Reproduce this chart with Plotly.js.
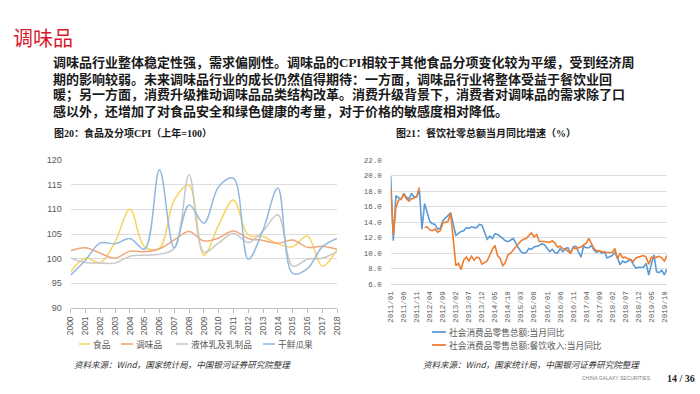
<!DOCTYPE html>
<html>
<head>
<meta charset="utf-8">
<script src="https://cdn.plot.ly/plotly-3.0.1.min.js"></script>
<style>html,body{margin:0;padding:0;background:#fff}#chart{width:700px;height:394px}</style>
</head>
<body>
<div id="chart"></div>
<script>
// ---------- Left chart data: 食品及分项CPI（上年=100） ----------
const years = ['2000','2001','2002','2003','2004','2005','2006','2007','2008','2009','2010','2011','2012','2013','2014','2015','2016','2017','2018'];
const food      = [97.4,100.1,99.2,103.4,110.0,102.4,102.1,111.9,114.9,100.7,106.8,111.9,104.8,104.5,103.0,102.4,104.6,98.5,101.8];
const seasoning = [101.6,102.2,101.1,100.1,101.5,101.4,102.0,103.8,105.5,103.6,104.2,105.6,104.1,103.7,103.1,103.8,102.3,102.5,101.9];
const dairy     = [100.1,99.2,99.1,99.1,100.5,100.7,100.9,102.1,117.0,101.3,103.2,105.1,103.3,105.6,108.9,98.5,99.9,100.1,101.4];
const fruit     = [96.7,99.7,103.2,103.0,104.1,101.9,118.0,102.2,110.9,107.2,114.6,116.3,99.9,105.8,114.3,97.0,98.0,102.4,104.1];
const leftNames = ['食品','调味品','液体乳及乳制品','干鲜瓜果'];

// ---------- Right chart data: 餐饮社零总额当月同比增速（%） ----------
const startYear = 2011, endYear = 2019, endMonth = 11;
const retailTotal = [
 19.9,11.6,17.4,17.1,16.9,17.7,17.2,17.0,17.7,17.2,17.3,18.1,
 13.1,16.4,15.2,14.1,13.8,13.7,13.1,13.2,14.2,14.5,14.9,15.2,
 null,12.3,12.6,12.8,12.9,13.3,13.2,13.4,13.3,13.3,13.7,13.6,
 null,11.8,12.2,11.9,12.5,12.4,12.2,11.9,11.6,11.5,11.7,11.9,
 null,10.7,10.2,10.0,10.1,10.6,10.5,10.8,10.9,11.0,11.2,11.1,
 null,10.2,10.5,10.1,10.0,10.6,10.2,10.6,10.7,10.0,10.8,10.9,
 null,9.5,10.9,10.7,10.7,11.0,10.4,10.1,10.3,10.0,10.2,9.4,
 null,9.7,10.1,9.4,8.5,9.0,8.8,9.0,9.2,8.6,8.1,8.2,
 null,8.2,8.7,7.2,8.6,9.8,7.6,7.5,7.8,7.2,8.0
];
const catering = [
 18.3,12.4,15.9,16.8,17.0,17.6,17.0,16.7,17.0,17.1,17.3,18.5,
 null,13.3,13.4,13.0,12.9,13.1,12.7,12.9,13.9,14.0,14.1,15.2,
 null,8.4,8.7,7.9,9.1,9.5,9.0,9.6,9.1,9.5,9.4,8.6,
 null,9.0,9.8,10.5,11.0,9.7,9.3,8.4,8.8,9.8,10.0,10.4,
 null,11.1,11.6,11.8,11.9,12.3,12.6,12.1,12.4,11.5,11.5,11.5,
 null,11.4,11.6,11.3,10.8,10.9,10.6,10.5,10.2,10.0,10.7,10.6,
 null,10.8,11.1,11.3,11.9,11.3,10.6,10.3,10.3,10.2,10.1,10.1,
 null,10.1,10.6,9.3,10.0,9.4,9.5,9.3,9.2,8.9,9.4,9.5,
 null,9.7,9.5,8.6,9.5,9.4,9.5,9.6,9.4,9.0,9.7
];
const rightNames = ['社会消费品零售总额:当月同比','社会消费品零售总额:餐饮收入:当月同比'];

// month category labels
const months = [];
for (let y = startYear; y <= endYear; y++) {
  for (let m = 1; m <= 12; m++) {
    if (y === endYear && m > endMonth) break;
    months.push(y + '/' + (m < 10 ? '0' + m : m));
  }
}
const monthTicks = months.filter((_, i) => i % 5 === 0);

// ---------- helpers ----------
const W = 700, H = 394;
const px = x => x / W;
const py = y => 1 - y / H;
const CJK = '"Noto Sans CJK SC", sans-serif';
const PARA = '"Liberation Serif", "Noto Sans CJK SC", serif';

const leftColors = ['#F9D463', '#F0A77C', '#C8C8C8', '#92B8E0'];
const rightColors = ['#5B9BD5', '#ED7D31'];

const traces = [];
[food, seasoning, dairy, fruit].forEach((s, i) => {
  traces.push({
    x: years, y: s, type: 'scatter', mode: 'lines', name: leftNames[i],
    line: {color: leftColors[i], width: 1.5, shape: 'spline', smoothing: 1},
    xaxis: 'x', yaxis: 'y', hoverinfo: 'skip'
  });
});
traces.push({
  x: months, y: retailTotal, type: 'scatter', mode: 'lines', name: rightNames[0],
  connectgaps: true, line: {color: rightColors[0], width: 1.6},
  xaxis: 'x2', yaxis: 'y2', hoverinfo: 'skip'
});
// catering series: no value for 2012/01 leaves a break in the line
const gapIdx = catering.findIndex((v, i) => i > 0 && v === null);
traces.push({
  x: months.slice(0, gapIdx), y: catering.slice(0, gapIdx), type: 'scatter', mode: 'lines',
  name: rightNames[1], connectgaps: true, line: {color: rightColors[1], width: 1.6},
  xaxis: 'x2', yaxis: 'y2', hoverinfo: 'skip'
});
traces.push({
  x: months.slice(gapIdx + 1), y: catering.slice(gapIdx + 1), type: 'scatter', mode: 'lines',
  name: rightNames[1], connectgaps: true, line: {color: rightColors[1], width: 1.6},
  xaxis: 'x2', yaxis: 'y2', hoverinfo: 'skip'
});

// ---------- text ----------
const paraLines = [
  '调味品行业整体稳定性强，需求偏刚性。调味品的CPI相较于其他食品分项变化较为平缓，受到经济周',
  '期的影响较弱。未来调味品行业的成长仍然值得期待：一方面，调味品行业将整体受益于餐饮业回',
  '暖；另一方面，消费升级推动调味品品类结构改革。消费升级背景下，消费者对调味品的需求除了口',
  '感以外，还增加了对食品安全和绿色健康的考量，对于价格的敏感度相对降低。'
];
const paraY = [63, 79, 95, 111];

const ann = [];
function txt(x, y, text, font, extra) {
  ann.push(Object.assign({
    xref: 'paper', yref: 'paper', x: px(x), y: py(y), text: text,
    showarrow: false, xanchor: 'left', yanchor: 'middle', font: font
  }, extra || {}));
}
txt(11, 37.5, '调味品', {family: CJK, size: 20, color: '#D9192E'});
paraLines.forEach((t, i) => txt(52, paraY[i], t, {family: PARA, size: 13, color: '#1a1a1a', weight: 700},
  {borderpad: 0}));
txt(52, 133, '图20：食品及分项CPI（上年=100）', {family: PARA, size: 10, color: '#1a1a1a', weight: 700});
txt(394, 133, '图21：餐饮社零总额当月同比增速（%）', {family: PARA, size: 10, color: '#1a1a1a', weight: 700});

const shapes = [];
const legFont = {family: CJK, size: 8.7, color: '#595959'};
const leftLeg = [[79, 90], [121, 133], [176, 188], [263, 275]];
leftLeg.forEach((p, i) => {
  shapes.push({type: 'line', xref: 'paper', yref: 'paper', x0: px(p[0]), x1: px(p[1]), y0: py(344), y1: py(344),
    line: {color: leftColors[i], width: 1.6}});
  txt(p[1] + 1, 344, leftNames[i], legFont);
});
[332, 345].forEach((y, i) => {
  shapes.push({type: 'line', xref: 'paper', yref: 'paper', x0: px(432), x1: px(446), y0: py(y), y1: py(y),
    line: {color: rightColors[i], width: 1.8}});
  txt(447, y, rightNames[i], legFont);
});

const srcFont = {family: CJK, size: 8.5, color: '#333', style: 'italic'};
txt(72, 364, '资料来源：Wind，国家统计局，中国银河证券研究院整理', srcFont);
txt(421, 364, '资料来源：Wind，国家统计局，中国银河证券研究院整理', srcFont);
txt(580, 378, 'CHINA GALAXY SECURITIES', {family: 'Liberation Sans', size: 5, color: '#808080'});
txt(665, 378, '14 / 36', {family: 'Liberation Serif', size: 10, color: '#262626', weight: 700});

const layout = {
  width: W, height: H, margin: {l: 0, r: 0, t: 0, b: 0},
  paper_bgcolor: '#fff', plot_bgcolor: 'rgba(0,0,0,0)', showlegend: false,
  xaxis: {
    domain: [px(70.7), px(337)], type: 'category', range: [0, years.length - 1],
    tickangle: -90, tickfont: {family: 'Liberation Sans', size: 8.5, color: '#595959'},
    showgrid: false, showline: true, linecolor: '#BFBFBF', linewidth: 1,
    ticks: 'outside', ticklen: 4, tickcolor: '#BFBFBF', zeroline: false, anchor: 'y', fixedrange: true
  },
  yaxis: {
    domain: [py(308), py(160)], range: [90, 120], dtick: 5, tick0: 90,
    tickfont: {family: 'Liberation Sans', size: 9, color: '#595959'},
    gridcolor: '#DDDDDD', gridwidth: 1, zeroline: false, showline: false, ticks: '',
    ticklabelstandoff: 8, anchor: 'x', fixedrange: true
  },
  xaxis2: {
    domain: [px(390.7), px(667)], type: 'category', categoryorder: 'array', categoryarray: months,
    range: [0, months.length - 1], tickmode: 'array', tickvals: monthTicks, ticktext: monthTicks,
    tickangle: -90, tickfont: {family: 'Liberation Mono', size: 7.5, color: '#595959'},
    showgrid: false, showline: true, linecolor: '#D9D9D9', linewidth: 1, ticks: '',
    ticklabelstandoff: 3, zeroline: false, anchor: 'y2', fixedrange: true
  },
  yaxis2: {
    domain: [py(284.3), py(160)], range: [6, 22], dtick: 2, tick0: 6, tickformat: '.1f',
    tickfont: {family: 'Liberation Mono', size: 7.5, color: '#595959'},
    gridcolor: '#DDDDDD', gridwidth: 1, zeroline: false, showline: false, ticks: '',
    ticklabelstandoff: 8, anchor: 'x2', fixedrange: true
  },
  annotations: ann,
  shapes: shapes
};

Plotly.newPlot('chart', traces, layout, {staticPlot: true, displayModeBar: false});
</script>
</body>
</html>
